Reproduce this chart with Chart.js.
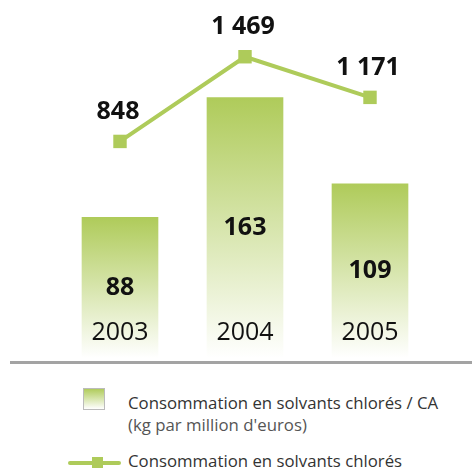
<!DOCTYPE html>
<html>
<head>
<meta charset="utf-8">
<script src="https://cdn.jsdelivr.net/npm/chart.js@4"></script>
<style>
  body { margin: 0; background: #fff; font-family: "Open Sans", sans-serif; }
  #wrap { position: relative; width: 472px; height: 473px; }
  #chart-box { position: absolute; left: 0; top: 0; width: 472px; height: 366px; }
  .legend { position: absolute; left: 0; top: 0; color: #333; font-size: 16.8px; }
  .sw-bar { position: absolute; left: 83px; top: 388px; width: 20px; height: 20px;
    border: 1px solid #bbb; background: linear-gradient(#b0cc5c, #fff); }
  .txt1 { position: absolute; left: 128px; top: 392px; line-height: 22px; white-space: nowrap; }
  .txt1 span { color: #555; }
  .sw-line { position: absolute; left: 68px; top: 461px; width: 53px; height: 4px; background: #aecb5a; border-radius: 2px; }
  .sw-mark { position: absolute; left: 92px; top: 457px; width: 11px; height: 11px; background: #aecb5a; }
  .txt2 { position: absolute; left: 128px; top: 450px; line-height: 22px; white-space: nowrap; }
</style>
</head>
<body>
<div id="wrap">
  <div id="chart-box"><canvas id="c"></canvas></div>
  <div class="legend">
    <div class="sw-bar"></div>
    <div class="txt1">Consommation en solvants chlorés / CA<br><span>(kg par million d'euros)</span></div>
    <div class="sw-line"></div>
    <div class="sw-mark"></div>
    <div class="txt2">Consommation en solvants chlorés</div>
  </div>
</div>
<script>
const years = ["2003", "2004", "2005"];
const ratioPerCA = [88, 163, 109];
const totalConso = [848, 1469, 1171];
const totalLabels = ["848", "1 469", "1 171"];

const GREEN = "#aecb5a";

const labelsPlugin = {
  id: "labels",
  afterDatasetsDraw(chart) {
    const ctx = chart.ctx;
    const x = chart.scales.x;
    const y = chart.scales.y;
    const y2 = chart.scales.y2;
    ctx.save();
    // baseline
    ctx.fillStyle = "#a3a3a3";
    ctx.fillRect(10, y.getPixelForValue(0) + 3, chart.width - 10, 3);

    ctx.textAlign = "center";
    ctx.textBaseline = "middle";
    ctx.fillStyle = "#111";
    years.forEach((yr, i) => {
      const cx = x.getPixelForValue(i);
      const top = y.getPixelForValue(ratioPerCA[i]);
      const bottom = y.getPixelForValue(0);
      ctx.font = "bold 25px 'Open Sans'";
      ctx.fillText(String(ratioPerCA[i]), cx, (top + bottom) / 2);
      ctx.font = "25px 'Open Sans'";
      ctx.fillText(yr, cx, bottom - 25);
      ctx.font = "bold 25px 'Open Sans'";
      const py = y2.getPixelForValue(totalConso[i]);
      ctx.fillText(totalLabels[i], cx - 2, py - 30);
    });
    ctx.restore();
  }
};

new Chart(document.getElementById("c"), {
  data: {
    labels: years,
    datasets: [
      {
        type: "line",
        data: totalConso,
        yAxisID: "y2",
        order: 0,
        borderColor: GREEN,
        borderWidth: 4,
        pointStyle: "rect",
        pointRadius: 9.5,
        pointBackgroundColor: GREEN,
        pointBorderWidth: 0,
        tension: 0,
        clip: false
      },
      {
        type: "bar",
        data: ratioPerCA,
        yAxisID: "y",
        order: 1,
        barThickness: 76,
        backgroundColor(context) {
          const chart = context.chart;
          if (!chart.chartArea || context.parsed == null) return GREEN;
          const top = chart.scales.y.getPixelForValue(context.parsed.y);
          const bottom = chart.scales.y.getPixelForValue(0);
          const g = chart.ctx.createLinearGradient(0, top, 0, bottom);
          g.addColorStop(0, "#afcb5a");
          g.addColorStop(1, "#ffffff");
          return g;
        }
      }
    ]
  },
  options: {
    responsive: true,
    maintainAspectRatio: false,
    animation: false,
    layout: { autoPadding: false, padding: { left: 57.5, right: 39.5, top: 0, bottom: 8 } },
    plugins: { legend: { display: false }, tooltip: { enabled: false } },
    scales: {
      x: { display: false, offset: true },
      y: { display: false, min: 0, max: 224 },
      y2: { display: false, min: -740, max: 1885 }
    }
  },
  plugins: [labelsPlugin]
});
</script>
</body>
</html>
